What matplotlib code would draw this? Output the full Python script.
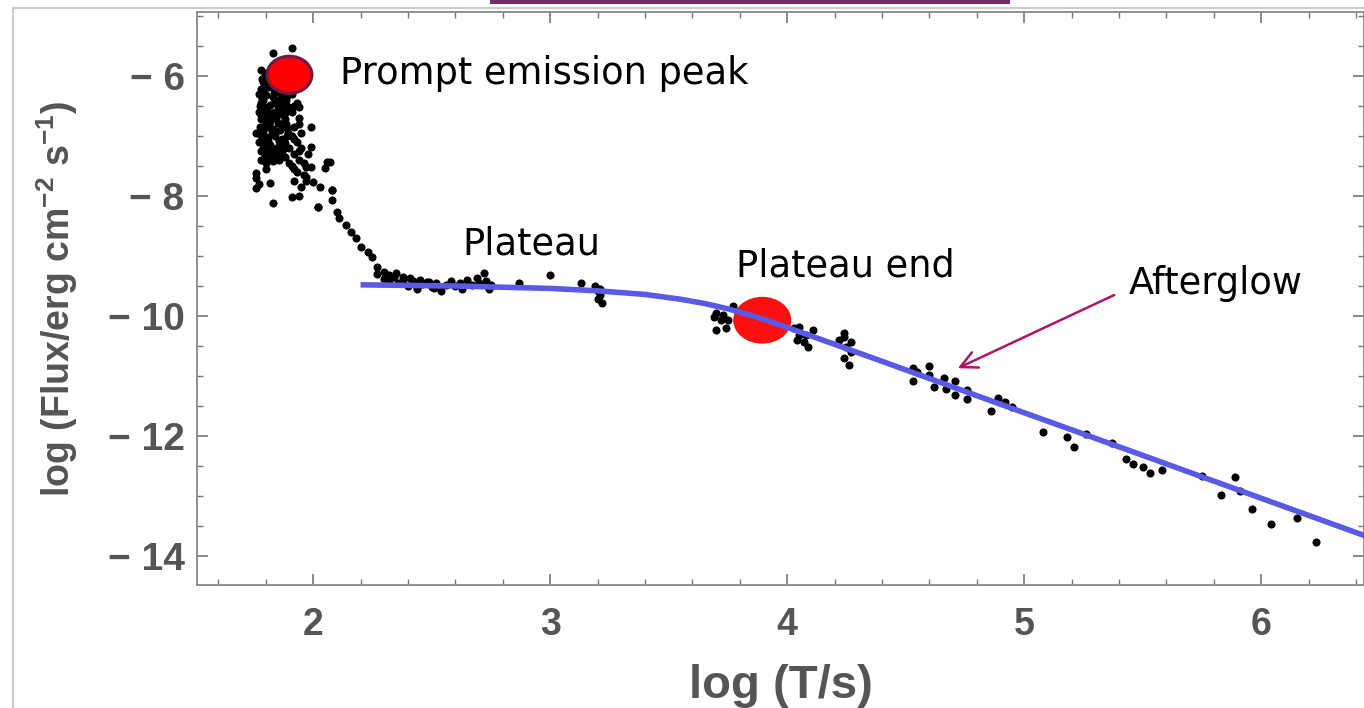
import matplotlib
matplotlib.use('Agg')
import matplotlib.pyplot as plt
from matplotlib.patches import Ellipse, Rectangle
from matplotlib.lines import Line2D
from matplotlib.ticker import MultipleLocator, FuncFormatter

# --- dati (log T, log Flux) ---
# fase prompt: colonna densa + punti sparsi
prompt_x = [1.78, 1.80, 1.82, 1.79, 1.84, 1.87, 1.78, 1.81, 1.85, 1.88,
            1.80, 1.83, 1.86, 1.89, 1.78, 1.82, 1.85, 1.88, 1.79, 1.81,
            1.84, 1.87, 1.90, 1.78, 1.82, 1.85, 1.88, 1.80, 1.83, 1.86,
            1.89, 1.78, 1.81, 1.84, 1.87, 1.79, 1.82, 1.85, 1.88, 1.78,
            1.81, 1.84, 1.87, 1.80, 1.83, 1.86, 1.77, 1.77, 1.77, 1.76,
            1.795, 1.815, 1.835, 1.855, 1.875, 1.795, 1.815, 1.835, 1.855, 1.875,
            1.795, 1.865, 1.785, 1.845, 1.895, 1.775, 1.825, 1.855, 1.805, 1.885,
            1.88, 1.80, 1.775, 1.89, 1.86,
            1.785, 1.825, 1.865, 1.785, 1.825, 1.865, 1.785, 1.825, 1.865, 1.805,
            1.845, 1.885, 1.805, 1.845, 1.885,
            1.79, 1.83, 1.87, 1.79, 1.84, 1.80, 1.86, 1.78, 1.83, 1.88,
            1.80, 1.87, 1.79, 1.84, 1.81, 1.86, 1.79, 1.84, 1.82, 1.78,
            1.85, 1.82, 1.89, 1.89,
            1.91, 1.93, 1.91, 1.94, 1.92, 1.95, 1.91, 1.93, 1.95, 1.92,
            1.94, 1.91, 1.93, 1.96, 1.92, 1.95, 1.90, 1.90,
            1.92, 1.94, 1.92, 1.94, 1.92, 1.97, 1.94, 1.98,
            1.83, 1.91, 1.76, 1.76, 1.77, 1.76, 1.83, 1.91, 1.94, 1.99,
            1.99, 2.06, 2.02, 2.08, 1.97, 1.80, 1.82]
prompt_y = [-5.90, -5.95, -6.00, -6.10, -6.08, -6.05, -6.22, -6.18, -6.25, -6.20,
            -6.32, -6.35, -6.38, -6.33, -6.45, -6.48, -6.50, -6.46, -6.58, -6.62,
            -6.60, -6.64, -6.56, -6.72, -6.75, -6.78, -6.72, -6.85, -6.88, -6.90,
            -6.86, -6.98, -7.02, -7.00, -7.05, -7.12, -7.15, -7.18, -7.12, -7.25,
            -7.28, -7.30, -7.26, -7.38, -7.42, -7.35, -7.10, -6.60, -6.30, -6.95,
            -5.98, -6.12, -6.28, -6.42, -6.55, -6.68, -6.80, -6.95, -7.08, -7.20,
            -7.33, -6.15, -6.38, -6.70, -6.95, -6.85, -7.22, -7.40, -6.52, -6.40,
            -7.35, -7.45, -6.50, -6.10, -5.92,
            -6.05, -6.15, -6.28, -6.55, -6.62, -6.82, -7.05, -6.92, -7.10, -7.18,
            -6.45, -6.80, -7.42, -7.22, -6.25,
            -6.25, -6.20, -6.30, -6.40, -6.42, -6.55, -6.58, -6.65, -6.68, -6.62,
            -6.78, -6.80, -6.92, -6.95, -7.08, -7.10, -7.20, -7.22, -7.35, -7.40,
            -6.05, -6.12, -6.50, -7.00,
            -6.30, -6.45, -6.60, -6.70, -6.85, -6.95, -7.00, -7.10, -7.20, -7.30,
            -7.40, -7.50, -7.60, -7.65, -7.75, -7.85, -7.20, -7.45,
            -6.50, -6.80, -7.05, -7.25, -7.55, -7.75, -8.00, -7.30,
            -5.62, -5.53, -7.62, -7.70, -7.80, -7.87, -8.12, -8.02, -6.52, -6.85,
            -7.18, -7.43, -8.18, -7.90, -7.52, -7.55, -7.78]

# decadimento ripido
decay_x = [1.96, 1.99, 2.07, 2.05, 1.97, 2.00, 2.03, 2.08, 2.02, 2.08,
           2.10, 2.11, 2.14, 2.16, 2.18, 2.20, 2.23, 2.25, 2.27, 2.30,
           2.32, 2.35, 2.38, 2.41, 2.45, 2.49, 2.44, 2.51]
decay_y = [-7.45, -7.52, -7.43, -7.53, -7.68, -7.77, -7.85, -7.90, -8.18, -8.07,
           -8.27, -8.37, -8.48, -8.60, -8.70, -8.85, -8.93, -9.02, -9.18, -9.27,
           -9.32, -9.28, -9.35, -9.37, -9.40, -9.43, -9.52, -9.53]

# plateau
plateau_x = [2.27, 2.30, 2.32, 2.34, 2.36, 2.38, 2.40, 2.42, 2.44, 2.46,
             2.48, 2.50, 2.52, 2.54, 2.56, 2.58, 2.60, 2.62, 2.63, 2.65,
             2.67, 2.69, 2.70, 2.72, 2.73, 2.74, 2.75, 2.87, 3.00, 3.13,
             3.19, 3.20, 3.21, 3.20, 3.22, 3.21]
plateau_y = [-9.30, -9.38, -9.42, -9.35, -9.45, -9.40, -9.50, -9.42, -9.55, -9.47,
             -9.43, -9.52, -9.45, -9.58, -9.48, -9.42, -9.50, -9.45, -9.55, -9.40,
             -9.48, -9.36, -9.45, -9.28, -9.42, -9.55, -9.48, -9.45, -9.32, -9.45,
             -9.50, -9.58, -9.65, -9.72, -9.78, -9.55]

# afterglow
after_x = [3.69, 3.70, 3.72, 3.70, 3.74, 3.77, 3.73, 3.75,
           4.03, 4.05, 4.07, 4.09, 4.11, 4.05, 4.08, 4.04,
           4.24, 4.22, 4.25, 4.27, 4.24, 4.26, 4.24, 4.27,
           4.53, 4.55, 4.60, 4.60, 4.62, 4.66, 4.67, 4.71, 4.71, 4.76,
           4.76, 4.86, 4.89, 4.92, 4.95, 4.53,
           5.08, 5.18, 5.21, 5.26, 5.37, 5.43, 5.46, 5.50, 5.53, 5.58,
           5.75, 5.83, 5.89, 5.91, 5.96, 6.04, 6.15, 6.23]
after_y = [-10.02, -9.95, -10.07, -10.23, -10.20, -9.83, -9.98, -10.07,
           -10.20, -10.32, -10.43, -10.52, -10.23, -10.18, -10.32, -10.40,
           -10.28, -10.40, -10.52, -10.60, -10.70, -10.82, -10.35, -10.43,
           -10.87, -10.93, -10.83, -10.98, -11.18, -11.03, -11.22, -11.08, -11.32, -11.23,
           -11.38, -11.58, -11.37, -11.43, -11.52, -11.08,
           -11.93, -12.02, -12.18, -11.97, -12.12, -12.38, -12.47, -12.52, -12.62, -12.57,
           -12.67, -12.98, -12.68, -12.92, -13.22, -13.47, -13.37, -13.77]

# curva di fit (punti letti lungo la linea blu)
fit_x = [2.20, 2.60, 3.00, 3.20, 3.40, 3.55, 3.65, 3.75, 3.85, 3.95,
         4.10, 4.39, 4.90, 5.45, 6.45]
fit_y = [-9.48, -9.50, -9.54, -9.58, -9.64, -9.72, -9.79, -9.88, -9.99, -10.12,
         -10.33, -10.74, -11.47, -12.25, -13.68]

peak_xy = (1.90, -5.98)
end_xy = (3.895, -10.07)

x_ticks = [2, 3, 4, 5, 6]
y_ticks = [-14, -12, -10, -8, -6]

plt.rcParams['mathtext.fontset'] = 'custom'
plt.rcParams['mathtext.rm'] = 'Liberation Sans:bold'
plt.rcParams['mathtext.bf'] = 'Liberation Sans:bold'
plt.rcParams['mathtext.it'] = 'Liberation Sans:bold'
plt.rcParams['mathtext.default'] = 'regular'

fig = plt.figure(figsize=(13.64, 7.08), dpi=100)
ax = fig.add_axes([197 / 1364, 1 - 585 / 708, 1 - 197 / 1364, (585 - 12) / 708])

# cornice esterna e barra viola in alto (resti della slide)
fig.add_artist(Line2D([13 / 1364, 13 / 1364], [0, 1 - 8 / 708], transform=fig.transFigure,
                      color='#cccccc', lw=1.5))
fig.add_artist(Line2D([13 / 1364, 1], [1 - 8 / 708, 1 - 8 / 708], transform=fig.transFigure,
                      color='#cccccc', lw=1.5))
fig.add_artist(Rectangle((490 / 1364, 1 - 4 / 708), 520 / 1364, 4 / 708,
                         transform=fig.transFigure, color='#6e2c6e', lw=0))

obs_x = prompt_x + decay_x + plateau_x + after_x
obs_y = prompt_y + decay_y + plateau_y + after_y

ax.add_patch(Ellipse(end_xy, 0.245, 0.78, facecolor='#ff1010', edgecolor='none', zorder=2))
ax.scatter(obs_x, obs_y, s=34, color='black', zorder=3, linewidths=0)
ax.plot(fit_x, fit_y, color='#5a5ae6', lw=4.0, solid_capstyle='butt', zorder=4)
ax.add_patch(Ellipse(peak_xy, 0.19, 0.62, facecolor='#ff0000', edgecolor='#6e1a45',
                     lw=2.2, zorder=5))

txt = dict(fontsize=26.5, family='DejaVu Sans', color='black', va='center')
ax.text(2.114, -5.95, 'Prompt emission peak', ha='left', **txt)
ax.text(2.92, -8.80, 'Plateau', ha='center', **txt)
ax.text(4.245, -9.17, 'Plateau end', ha='center', **txt)
ax.text(5.81, -9.45, 'Afterglow', ha='center', **txt)
ax.annotate('', xy=(4.72, -10.87), xytext=(5.38, -9.65),
            arrowprops=dict(arrowstyle='->', color='#b01468', lw=1.8,
                            mutation_scale=30, shrinkA=0, shrinkB=0))

ax.set_xlim(1.51, 6.434)
ax.set_ylim(-14.483, -4.933)
ax.set_xticks(x_ticks)
ax.set_yticks(y_ticks)
ax.xaxis.set_minor_locator(MultipleLocator(0.2))
ax.yaxis.set_minor_locator(MultipleLocator(0.5))
ax.yaxis.set_major_formatter(FuncFormatter(lambda v, p: '\u2212 %d' % abs(v) if v < 0 else '%d' % v))

for s in ax.spines.values():
    s.set_color('#888888')
    s.set_linewidth(1.3)
ax.tick_params(which='both', direction='in', top=True, right=True, color='#777777')
ax.tick_params(which='major', length=8, width=1.2)
ax.tick_params(which='minor', length=4, width=1.0)
ax.tick_params(axis='x', which='major', pad=16, labelsize=27, labelcolor='#555555')
ax.tick_params(axis='y', which='major', pad=9, labelsize=28, labelcolor='#555555')
for lab in ax.get_xticklabels() + ax.get_yticklabels():
    lab.set_family('Liberation Sans')
    lab.set_fontweight('bold')

ax.set_xlabel('log (T/s)', fontsize=34, family='Liberation Sans', fontweight='bold',
              color='#555555', labelpad=15)
ax.set_ylabel('log (Flux/erg cm$^{-2}$ s$^{-1}$)', fontsize=27, family='Liberation Sans',
              fontweight='bold', color='#555555', labelpad=20)

fig.savefig('out.png', dpi=100)
